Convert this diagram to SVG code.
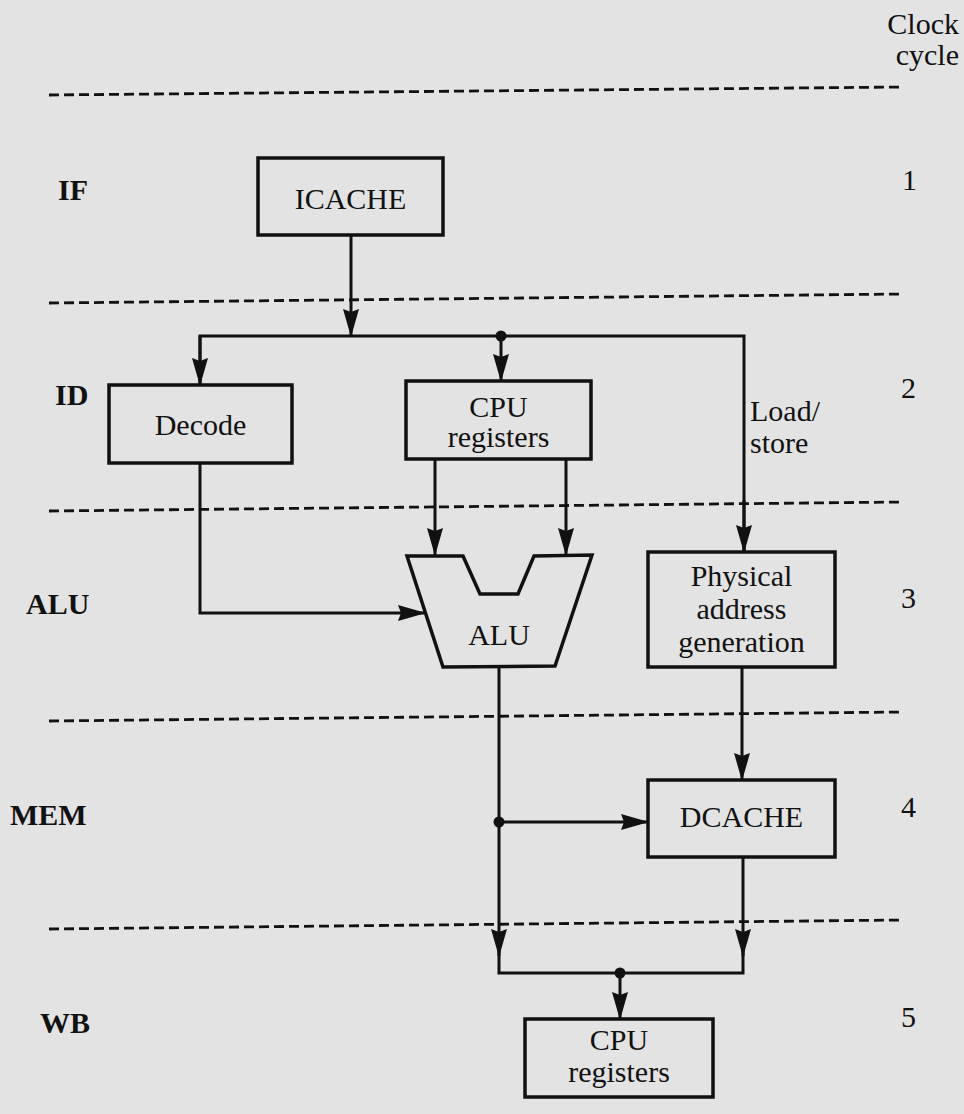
<svg xmlns="http://www.w3.org/2000/svg" width="964" height="1114" viewBox="0 0 964 1114">
<defs>
<style>
.bg{fill:#e3e3e3}
.box{fill:none;stroke:#111;stroke-width:3.5}
.dash{stroke:#111;stroke-width:2.8;stroke-dasharray:10 5;fill:none}
.wire{stroke:#111;stroke-width:3;fill:none}
.t{font-family:"Liberation Serif","Times New Roman",serif;font-size:30px;fill:#111}
.c{text-anchor:middle}
.b{font-weight:bold}
.dot{fill:#111}
</style>
<marker id="arr" markerUnits="userSpaceOnUse" markerWidth="28" markerHeight="16" refX="27" refY="8" orient="auto">
<path d="M0,0 L28,8 L0,16 L3,8 z" fill="#111"/>
</marker>
</defs>
<rect class="bg" x="0" y="0" width="964" height="1114"/>

<g id="stage-lines">
<line class="dash" x1="49" y1="95" x2="902" y2="87"/>
<line class="dash" x1="49" y1="303" x2="902" y2="294"/>
<line class="dash" x1="49" y1="511" x2="902" y2="502"/>
<line class="dash" x1="49" y1="721" x2="902" y2="712"/>
<line class="dash" x1="49" y1="929" x2="902" y2="920"/>
</g>

<g id="labels">
<text class="t" x="959" y="34" text-anchor="end">Clock</text>
<text class="t" x="959" y="65" text-anchor="end">cycle</text>
<text class="t b" x="58" y="200">IF</text>
<text class="t b" x="55" y="405">ID</text>
<text class="t b" x="26" y="614">ALU</text>
<text class="t b" x="10" y="825">MEM</text>
<text class="t b" x="40" y="1033">WB</text>
<text class="t" x="902" y="190">1</text>
<text class="t" x="901" y="398">2</text>
<text class="t" x="901" y="608">3</text>
<text class="t" x="901" y="817">4</text>
<text class="t" x="901" y="1027">5</text>
</g>

<g id="icache">
<rect class="box" x="258" y="158" width="185" height="77"/>
<text class="t c" x="350.5" y="209">ICACHE</text>
</g>

<g id="decode">
<rect class="box" x="109" y="385" width="183" height="78"/>
<text class="t c" x="200.5" y="435">Decode</text>
</g>

<g id="cpu-registers-id">
<rect class="box" x="406" y="381" width="185" height="78"/>
<text class="t c" x="498.5" y="417">CPU</text>
<text class="t c" x="498.5" y="447">registers</text>
</g>

<g id="alu">
<polygon class="box" points="407,556 463,556 480,594 518,594 534,556 592,555 555,666 443,667"/>
<text class="t c" x="499" y="645">ALU</text>
</g>

<g id="physical-address">
<rect class="box" x="648" y="552" width="187" height="115"/>
<text class="t c" x="741.5" y="586">Physical</text>
<text class="t c" x="741.5" y="619">address</text>
<text class="t c" x="741.5" y="652">generation</text>
</g>

<g id="dcache">
<rect class="box" x="648" y="780" width="187" height="77"/>
<text class="t c" x="741.5" y="827">DCACHE</text>
</g>

<g id="cpu-registers-wb">
<rect class="box" x="525" y="1019" width="188" height="78"/>
<text class="t c" x="619" y="1050">CPU</text>
<text class="t c" x="619" y="1082">registers</text>
</g>

<g id="connectors">
<path class="wire" d="M351,235 V336" marker-end="url(#arr)"/>
<path class="wire" d="M200,385 V336 H744 V552"/>
<path class="wire" d="M200,336 V385" marker-end="url(#arr)"/>
<path class="wire" d="M744,500 V552" marker-end="url(#arr)"/>
<path class="wire" d="M501,336 V381" marker-end="url(#arr)"/>
<circle class="dot" cx="501" cy="336" r="5.5"/>
<text class="t" x="750" y="421">Load/</text>
<text class="t" x="750" y="453">store</text>
<path class="wire" d="M435,459 V555" marker-end="url(#arr)"/>
<path class="wire" d="M566,459 V555" marker-end="url(#arr)"/>
<path class="wire" d="M200,463 V613 H425" marker-end="url(#arr)"/>
<path class="wire" d="M742,667 V780" marker-end="url(#arr)"/>
<path class="wire" d="M499,667 V956" marker-end="url(#arr)"/>
<path class="wire" d="M499,822 H648" marker-end="url(#arr)"/>
<circle class="dot" cx="499" cy="822" r="5.5"/>
<path class="wire" d="M743,857 V956" marker-end="url(#arr)"/>
<path class="wire" d="M499,950 V973 H743 V950"/>
<path class="wire" d="M620,973 V1019" marker-end="url(#arr)"/>
<circle class="dot" cx="620" cy="973" r="5.5"/>
</g>
</svg>
